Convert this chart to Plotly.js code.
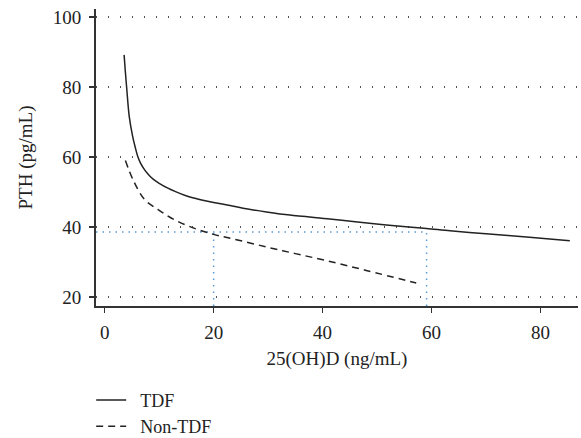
<!DOCTYPE html>
<html>
<head>
<meta charset="utf-8">
<script src="https://cdn.plot.ly/plotly-3.0.1.min.js"></script>
<style>html,body{margin:0;padding:0;background:#fff;}#chart{width:581px;height:438px;}</style>
</head>
<body>
<div id="chart"></div>
<script>
// TDF curve (solid)
const tdfX = [3.56, 3.78, 4.02, 4.5, 5.13, 5.6, 6.1, 6.6, 7.3, 7.9, 8.5, 9.2, 10.0, 11.6, 13.0, 14.8, 17.6, 20.0, 22.5, 26.0, 29.7, 34.0, 41.3, 46.0, 51.7, 59.1, 63.4, 70.0, 78.0, 85.4];
const tdfY = [89.2, 84.6, 80.0, 71.6, 65.9, 62.8, 60.0, 58.2, 56.4, 55.2, 54.2, 53.3, 52.5, 51.1, 50.1, 49.0, 47.8, 47.0, 46.3, 45.2, 44.3, 43.4, 42.3, 41.5, 40.6, 39.6, 38.9, 38.1, 37.1, 36.1];
// Non-TDF curve (dashed)
const nonX = [3.8, 5.2, 7.3, 9.8, 12.8, 16.5, 20.0, 23.6, 29.7, 35.0, 40.7, 48.0, 57.2];
const nonY = [59.0, 53.5, 47.9, 45.0, 42.1, 39.6, 37.9, 36.6, 34.3, 32.4, 30.4, 27.6, 24.0];
// Reference cut-offs (blue dotted)
const cutPTH = [38.6];
const cutVitD = [20, 59.1];
const seriesNames = ["TDF", "Non-TDF"];
const xTicks = [0, 20, 40, 60, 80];
const yTicks = [20, 40, 60, 80, 100];

const FONT = "Liberation Serif";
const xr = [-1.6, 86.9];
const yr = [17.43, 102.3];

const traces = [
  {x: tdfX, y: tdfY, name: "\u00a0\u00a0" + seriesNames[0], mode: "lines", line: {color: "#222", width: 1.5, shape: "spline", smoothing: 0.8}},
  {x: nonX, y: nonY, name: "\u00a0\u00a0" + seriesNames[1], mode: "lines", line: {color: "#222", width: 1.5, dash: "7px,5px", shape: "spline", smoothing: 1}}
];

const blue = "#5b9bd5";
const shapes = [];
shapes.push({type: "line", xref: "x", yref: "y", x0: xr[0], x1: cutVitD[1], y0: cutPTH[0], y1: cutPTH[0], line: {color: blue, width: 1.5, dash: "1.5px,5px"}, layer: "below"});
cutVitD.forEach(v => shapes.push({type: "line", xref: "x", yref: "y", x0: v, x1: v, y0: yr[0], y1: cutPTH[0], line: {color: blue, width: 1.5, dash: "1.5px,5px"}, layer: "below"}));

const layout = {
  width: 581, height: 438,
  margin: {l: 96, r: 3, t: 9, b: 132, autoexpand: false},
  paper_bgcolor: "#fff", plot_bgcolor: "#fff",
  font: {family: FONT, size: 19, color: "#222"},
  showlegend: true,
  legend: {x: -0.01, y: -0.255, xanchor: "left", yanchor: "top", orientation: "v", font: {family: FONT, size: 18, color: "#222"}, tracegroupgap: 0, itemwidth: 30, bgcolor: "rgba(0,0,0,0)"},
  xaxis: {
    range: xr, tickvals: xTicks, ticktext: xTicks.map(String),
    showline: true, linecolor: "#333", linewidth: 2,
    ticks: "outside", ticklen: 5, tickcolor: "#333", tickwidth: 1.5,
    showgrid: false, zeroline: false, ticklabelstandoff: 3,
    tickfont: {family: FONT, size: 19, color: "#222"},
    title: {text: "25(OH)D (ng/mL)", font: {family: FONT, size: 19, color: "#222"}, standoff: 10}
  },
  yaxis: {
    range: yr, tickvals: yTicks, ticktext: yTicks.map(String),
    showline: true, linecolor: "#333", linewidth: 2,
    ticks: "outside", ticklen: 5, tickcolor: "#333", tickwidth: 1.5,
    showgrid: true, gridcolor: "#555", gridwidth: 1.2, griddash: "1.2px,10.8px",
    zeroline: false, ticklabelstandoff: 4,
    tickfont: {family: FONT, size: 19, color: "#222"},
    title: {text: "PTH (pg/mL)", font: {family: FONT, size: 19, color: "#222"}, standoff: 15}
  },
  shapes: shapes
};

Plotly.newPlot("chart", traces, layout, {staticPlot: true, displayModeBar: false});
</script>
</body>
</html>
